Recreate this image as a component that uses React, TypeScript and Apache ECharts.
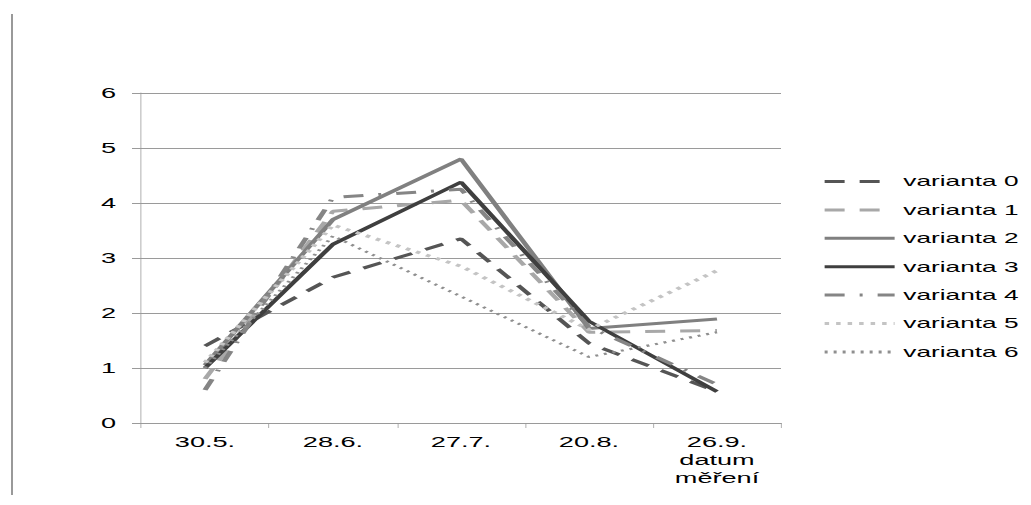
import React, { useEffect, useRef } from "react";
import * as echarts from "echarts";

const categories = ["30.5.", "28.6.", "27.7.", "20.8.", "26.9."];
const seriesNames = ["varianta 0", "varianta 1", "varianta 2", "varianta 3", "varianta 4", "varianta 5", "varianta 6"];
const varianta0 = [1.4, 2.65, 3.35, 1.45, 0.57];
const varianta1 = [0.8, 3.85, 4.05, 1.65, 1.68];
const varianta2 = [1.05, 3.7, 4.8, 1.72, 1.89];
const varianta3 = [1.0, 3.25, 4.38, 1.85, 0.57];
const varianta4 = [0.6, 4.1, 4.25, 1.75, 0.7];
const varianta5 = [1.1, 3.6, 2.85, 1.7, 2.77];
const varianta6 = [1.0, 3.4, 2.3, 1.2, 1.65];
const yTicks = [0, 1, 2, 3, 4, 5, 6];
const axisTitle = "datum\nměření";

// The reference's text is horizontally stretched; draw narrower and stretch.
const STRETCH = 1.75;
const W = 1031 / STRETCH;
const H = 505;
const FONT = "'Liberation Sans', Arial, sans-serif";
const px = (v: number) => v / STRETCH; // page x -> chart x

export default function App() {
  const ref = useRef<HTMLDivElement>(null);
  useEffect(() => {
    if (!ref.current) return;
    const chart = echarts.init(ref.current, null, { renderer: "svg", width: W, height: H });
    const styles = [
      { color: "#555555", width: 3, type: [px(20), px(15)], cap: "butt" },
      { color: "#a8a8a8", width: 3, type: [px(20), px(15)], cap: "butt" },
      { color: "#808080", width: 3, type: "solid", cap: "butt" },
      { color: "#3f3f3f", width: 3, type: "solid", cap: "butt" },
      { color: "#858585", width: 3, type: [px(20), px(15), px(3), px(15)], cap: "butt" },
      { color: "#c4c4c4", width: 3, type: [px(4.5), px(7)], cap: "butt" },
      { color: "#8f8f8f", width: 2.2, type: [px(3), px(6)], cap: "butt" },
    ];
    const values = [varianta0, varianta1, varianta2, varianta3, varianta4, varianta5, varianta6];
    chart.setOption({
      animation: false,
      backgroundColor: "#ffffff",
      textStyle: { fontFamily: FONT },
      grid: { left: px(141), right: W - px(781), top: 93, bottom: 82, containLabel: false },
      legend: {
        orient: "vertical",
        left: px(822),
        top: 174,
        padding: 0,
        itemWidth: px(70),
        itemHeight: 14,
        itemGap: 13.4,
        itemStyle: { opacity: 0 },
        lineStyle: { width: 3 },
        textStyle: { fontFamily: FONT, fontSize: 15, lineHeight: 14, color: "#000000" },
        data: seriesNames,
      },
      xAxis: {
        type: "category",
        data: categories,
        boundaryGap: true,
        axisLine: { lineStyle: { color: "#9a9a9a", width: 1 } },
        axisTick: { show: true, inside: false, length: 5, lineStyle: { color: "#9a9a9a", width: px(1) } },
        axisLabel: { color: "#000000", fontFamily: FONT, fontSize: 15.5, margin: 11 },
        splitLine: { show: false },
      },
      yAxis: {
        type: "value",
        min: yTicks[0],
        max: yTicks[yTicks.length - 1],
        interval: 1,
        axisLine: { show: true, lineStyle: { color: "#9a9a9a", width: px(1) } },
        axisTick: { show: true, inside: false, length: px(9), lineStyle: { color: "#9a9a9a", width: 1 } },
        axisLabel: { color: "#000000", fontFamily: FONT, fontSize: 15.5, margin: px(25) },
        splitLine: { show: true, lineStyle: { color: "#9a9a9a", width: 1 } },
      },
      graphic: [
        {
          type: "line",
          shape: { x1: px(12), y1: 14, x2: px(12), y2: 495 },
          style: { stroke: "#999999", lineWidth: px(2) },
        },
        {
          type: "text",
          x: px(717),
          y: 450,
          style: {
            text: axisTitle,
            fontFamily: FONT,
            fontSize: 15.5,
            lineHeight: 18.5,
            fill: "#000000",
            align: "center",
            verticalAlign: "top",
          },
        },
      ],
      series: seriesNames.map((name, i) => ({
        name,
        type: "line",
        data: values[i],
        symbol: "none",
        showSymbol: false,
        lineStyle: { color: styles[i].color, width: styles[i].width, type: styles[i].type, cap: styles[i].cap },
        itemStyle: { color: styles[i].color },
      })),
    });
    return () => chart.dispose();
  }, []);
  return (
    <div
      ref={ref}
      style={{
        position: "absolute",
        left: 0,
        top: 0,
        width: W,
        height: H,
        transform: `scaleX(${STRETCH})`,
        transformOrigin: "0 0",
        background: "#ffffff",
      }}
    />
  );
}
